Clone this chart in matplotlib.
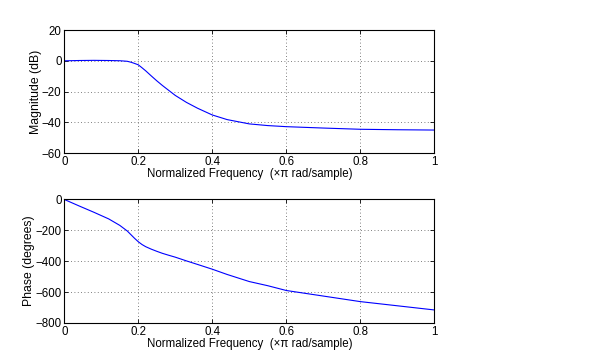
import matplotlib
matplotlib.use("Agg")
import matplotlib.pyplot as plt

freq = [0, 0.04, 0.08, 0.12, 0.15, 0.17, 0.18, 0.19, 0.2, 0.21, 0.22, 0.235, 0.25, 0.265, 0.28,
        0.3, 0.33, 0.36, 0.4, 0.44, 0.5, 0.55, 0.6, 0.7, 0.8, 0.9, 1.0]
magnitude = [0, 0.2, 0.3, 0.2, 0.05, -0.3, -0.9, -1.7, -2.6, -4.5, -6.5, -9.8, -13, -16, -18.8,
             -22.5, -27, -30.8, -35.2, -38.2, -41, -42.1, -42.8, -43.7, -44.5, -44.8, -45]
phase = [0, -42, -83, -126, -168, -204, -228, -252, -274, -292, -306, -322, -336, -349, -360,
         -374, -398, -421, -452, -486, -532, -559, -590, -626, -662, -689, -716]

xticks = [0, 0.2, 0.4, 0.6, 0.8, 1]
xticklabels = ["0", "0.2", "0.4", "0.6", "0.8", "1"]
mag_ticks = [-60, -40, -20, 0, 20]
phase_ticks = [-800, -600, -400, -200, 0]
xlabel = "Normalized Frequency  (\u00d7\u03c0 rad/sample)"

plt.rcParams['font.family'] = ['Liberation Sans', 'DejaVu Sans']
plt.rcParams['font.size'] = 8

fig = plt.figure(figsize=(5.92, 3.62), dpi=100)
ax1 = fig.add_axes([0.1086, 0.577, 0.6250, 0.340])
ax2 = fig.add_axes([0.1086, 0.108, 0.6250, 0.341])

def style(ax, yticks, ylim, ylabel):
    ax.set_xlim(0, 1)
    ax.set_ylim(*ylim)
    ax.set_xticks(xticks)
    ax.set_xticklabels(xticklabels)
    ax.set_yticks(yticks)
    ax.grid(True, linestyle=(0, (1, 3)), color='#555555', linewidth=0.6)
    ax.tick_params(direction='in', top=True, right=True, length=3, width=0.6, pad=2, labelsize=8.3)
    for s in ax.spines.values():
        s.set_linewidth(0.8)
    ax.set_xlabel(xlabel, fontsize=8.3, labelpad=0)
    ax.set_ylabel(ylabel, fontsize=8.8, labelpad=0)

ax1.plot(freq, magnitude, color='#0000ff', linewidth=0.8)
style(ax1, mag_ticks, (-60, 20), "Magnitude (dB)")
ax2.plot(freq, phase, color='#0000ff', linewidth=0.8)
style(ax2, phase_ticks, (-800, 0), "Phase (degrees)")

fig.savefig("out.png", dpi=100)
